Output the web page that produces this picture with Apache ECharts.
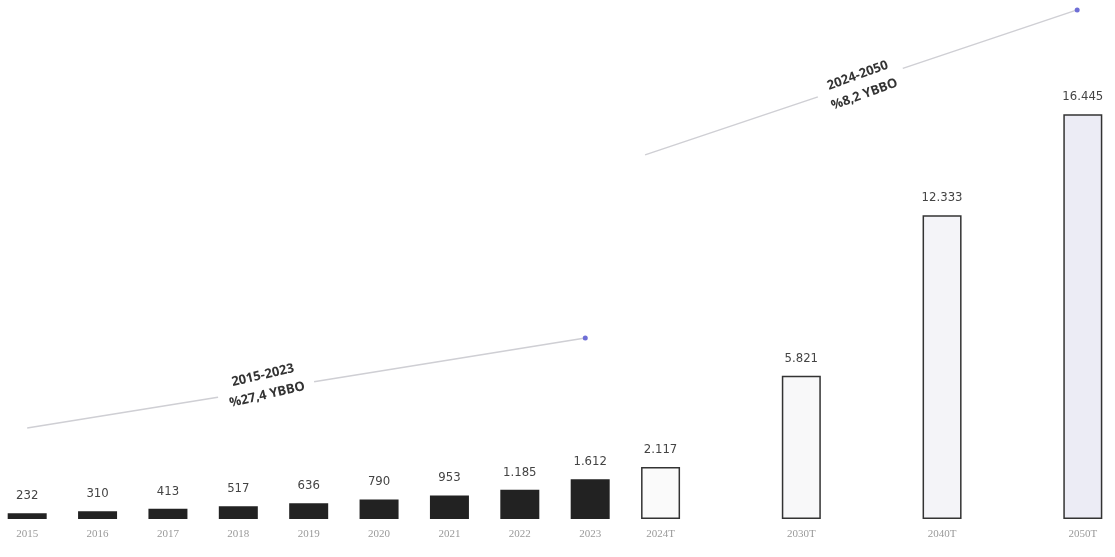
<!DOCTYPE html>
<html>
<head>
<meta charset="utf-8">
<script src="https://cdn.jsdelivr.net/npm/echarts@6/dist/echarts.min.js"></script>
<style>html,body{margin:0;padding:0;background:#fff;}#c{width:1115px;height:557px;}</style>
</head>
<body>
<div id="c"></div>
<script>
// Categories (empty slots keep the gap between historic and forecast years)
const categories = ['2015','2016','2017','2018','2019','2020','2021','2022','2023','2024T','','2030T','','2040T','','2050T'];
// Historic values (dark bars)
const actualValues = [232,310,413,517,636,790,953,1185,1612,null,null,null,null,null,null,null];
// Forecast values (light bars)
const forecastValues = [null,null,null,null,null,null,null,null,null,2117,null,5821,null,12333,null,16445];
const forecastFills = ['#fafafa','#f8f8f9','#f4f4f8','#ececf5'];
// Trend annotation lines, in [slot position, value] space
const trend1 = [[0, 3700], [7.93, 7350]];
const trend2 = [[8.78, 14790], [14.92, 20680]];
const trendLabels = [
  {text: '2015-2023\n%27,4 YBBO', at: [3.38, 5440], angle: 13},
  {text: '2024-2050\n%8,2 YBBO', at: [11.85, 17630], angle: 20}
];

function fmt(v){ return String(v).replace(/\B(?=(\d{3})+(?!\d))/g, '.'); }

const chart = echarts.init(document.getElementById('c'));
let fi = 0;
const forecastData = forecastValues.map(v => {
  if (v == null) return '-';
  const f = forecastFills[Math.min(fi++, forecastFills.length-1)];
  return {value: v, itemStyle: {color: f}};
});

function trendSeries(pts){
  return {
    type: 'line', xAxisIndex: 1, yAxisIndex: 0, silent: true, clip: false,
    lineStyle: {color: '#cfcfd4', width: 1.5},
    itemStyle: {color: '#6e6ed6'},
    showSymbol: true, symbol: 'circle',
    data: [{value: pts[0], symbolSize: 0}, {value: pts[1], symbolSize: 5}],
    z: 1
  };
}

const valueLabel = {show: true, position: 'top', distance: 11, color: '#444', fontSize: 13,
                    fontFamily: 'DejaVu Sans Condensed', formatter: p => fmt(p.value)};

chart.setOption({
  animation: false,
  grid: {left: -8, width: 1126, top: 2, bottom: 38, outerBoundsMode: 'none', containLabel: false},
  xAxis: [
    {type: 'category', data: categories,
     axisLine: {show: false}, axisTick: {show: false},
     axisLabel: {color: '#9a9a9a', fontSize: 11, fontFamily: 'Liberation Serif', margin: 10, interval: 0}},
    {type: 'value', min: -0.5, max: 15.5, show: false}
  ],
  yAxis: {type: 'value', min: 0, max: 21000, show: false, splitLine: {show: false}},
  series: [
    {type: 'bar', data: actualValues.map(v => v == null ? '-' : v), barWidth: 39, barGap: '-100%',
     itemStyle: {color: '#222222'}, label: valueLabel},
    {type: 'bar', data: forecastData, barWidth: 39,
     itemStyle: {borderColor: '#333', borderWidth: 1.5}, label: valueLabel},
    trendSeries(trend1),
    trendSeries(trend2)
  ]
});

const graphics = trendLabels.map(t => {
  const p = chart.convertToPixel({xAxisIndex: 1, yAxisIndex: 0}, t.at);
  return {
    type: 'text', x: p[0], y: p[1], rotation: t.angle * Math.PI / 180, z: 10,
    style: {text: t.text, fill: '#333', font: 'bold 13px "Open Sans"', align: 'center', verticalAlign: 'middle',
            lineHeight: 20, backgroundColor: '#fff', padding: [2, 10]}
  };
});
chart.setOption({graphic: graphics});
</script>
</body>
</html>
